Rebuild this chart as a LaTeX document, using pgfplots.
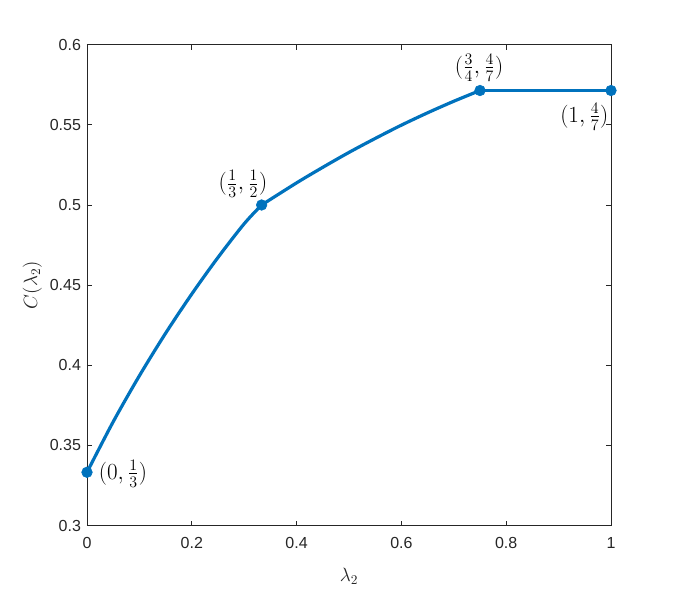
\documentclass[border=0pt]{standalone}
\usepackage[no-math]{fontspec}
\usepackage{pgfplots}
\pgfplotsset{compat=1.18}
\newfontfamily\tickfont{Liberation Sans}
\definecolor{mblue}{HTML}{0072BD}
\definecolor{mgray}{HTML}{262626}

\begin{document}
\begin{tikzpicture}
\path[use as bounding box] (-65.25pt,-48.75pt) rectangle (441pt,394.25pt);
\begin{axis}[
    scale only axis,
    width=393pt, height=360.75pt,
    xmin=0, xmax=1, ymin=0.3, ymax=0.6,
    xtick={0,0.2,0.4,0.6,0.8,1},
    ytick={0.3,0.35,0.4,0.45,0.5,0.55,0.6},
    tick align=inside,
    major tick length=3.75pt,
    axis line style={mgray, line width=0.5pt},
    tick style={mgray, line width=0.5pt},
    ticklabel style={font=\tickfont\fontsize{12}{14}\selectfont, text=mgray},
    /pgf/number format/.cd, fixed, precision=2, assume math mode=true,
    /pgfplots/.cd,
    xticklabel style={yshift=-5pt},
    yticklabel style={xshift=-1pt},
    xlabel={$\lambda_2$}, ylabel={$C(\lambda_2)$},
    label style={font=\fontsize{14}{16}\selectfont, text=mgray},
    xlabel style={at={(rel axis cs:0.5,0)}, anchor=center, yshift=-38pt},
    ylabel style={at={(rel axis cs:0,0.5)}, anchor=center, yshift=41pt},
    clip=false,
]
% first branch, 0 <= lambda <= 1/3
\addplot[mblue, line width=2.4pt, smooth] coordinates {
    (0,0.3333) (0.05,0.3648) (0.10,0.3935) (0.15,0.4200) (0.20,0.4445)
    (0.25,0.4673) (0.30,0.4883) (0.3333,0.5)
};
% second branch, 1/3 <= lambda <= 3/4
\addplot[mblue, line width=2.4pt, smooth] coordinates {
    (0.3333,0.5) (0.40,0.5138) (0.45,0.5235) (0.50,0.5328) (0.55,0.5415)
    (0.60,0.5498) (0.65,0.5575) (0.70,0.5647) (0.75,0.5714)
};
% flat part
\addplot[mblue, line width=2.4pt] coordinates {(0.75,0.5714) (1,0.5714)};
\addplot[only marks, mark=*, mark size=4pt, mblue] coordinates {
    (0,0.3333) (0.3333,0.5) (0.75,0.5714) (1,0.5714)
};
\node[font=\fontsize{17}{19}\selectfont, xshift=27pt, yshift=-1pt] at (axis cs:0,0.3333) {$(0,\frac{1}{3})$};
\node[font=\fontsize{17}{19}\selectfont, xshift=-14pt, yshift=15.75pt] at (axis cs:0.3333,0.5) {$(\frac{1}{3},\frac{1}{2})$};
\node[font=\fontsize{17}{19}\selectfont, xshift=-0.75pt, yshift=17.25pt] at (axis cs:0.75,0.5714) {$(\frac{3}{4},\frac{4}{7})$};
\node[font=\fontsize{17}{19}\selectfont, xshift=-20pt, yshift=-19.5pt] at (axis cs:1,0.5714) {$(1,\frac{4}{7})$};
\end{axis}
\end{tikzpicture}
\end{document}
